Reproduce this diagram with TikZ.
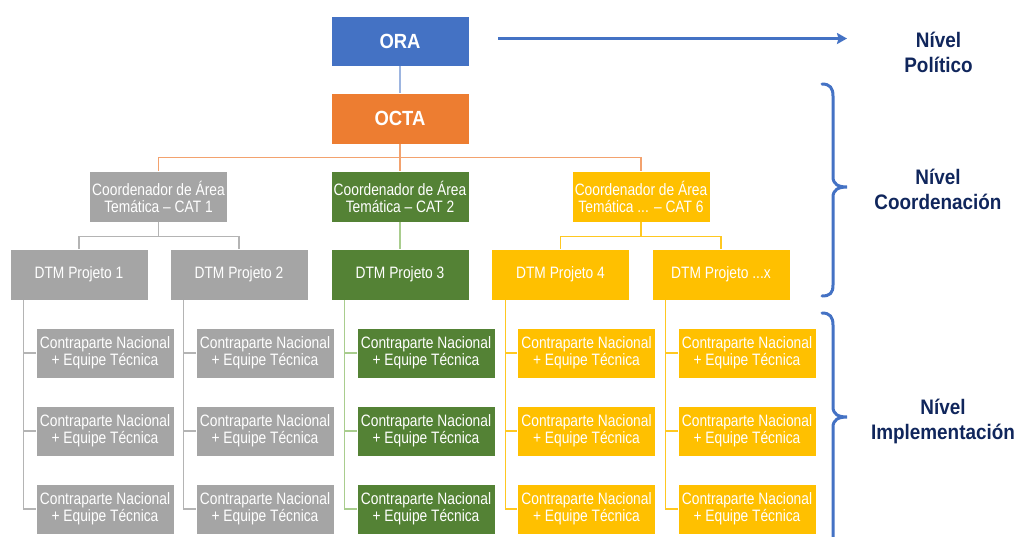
\documentclass[tikz,border=0pt]{standalone}
\usepackage{fontspec}
\setmainfont{Liberation Sans}
\newfontfamily\boxfont[FakeStretch=0.835]{Liberation Sans}
\newfontfamily\titlefont[FakeStretch=0.9]{Liberation Sans}
\newfontfamily\lblfont[FakeStretch=0.9]{Liberation Sans}
\usetikzlibrary{arrows.meta,calc}
\definecolor{cblue}{HTML}{4472C4}
\definecolor{corange}{HTML}{ED7D31}
\definecolor{cgray}{HTML}{A5A5A5}
\definecolor{cgreen}{HTML}{548235}
\definecolor{cyellow}{HTML}{FFC000}
\definecolor{cnavy}{RGB}{16,38,92}
\definecolor{lblue}{HTML}{9DB5E0}
\definecolor{lorange}{HTML}{F3A26E}
\definecolor{lgray}{HTML}{B4B4B4}
\definecolor{lgreen}{HTML}{A9CD8E}
\definecolor{lyellow}{HTML}{FFC821}
\begin{document}
\begin{tikzpicture}[x=1pt,y=-1pt,
  box/.style={rectangle, minimum width=138pt, minimum height=51pt, inner sep=0pt,
    draw=white, line width=0.6pt, text=white, align=center,
    font=\boxfont\fontsize{16.5}{17}\selectfont},
  cbox/.style={box, minimum height=50pt},
  topbox/.style={box, minimum height=50pt, font=\titlefont\bfseries\fontsize{20.5}{22}\selectfont},
  lbl/.style={align=center, text=cnavy, inner sep=0pt,
    font=\lblfont\bfseries\fontsize{21}{25}\selectfont},
  conn/.style={line width=1.3pt},
  bracestyle/.style={draw=cblue, line width=3pt, line cap=round}]
\useasboundingbox (0,0) rectangle (1018,536);
\clip (0,0) rectangle (1018,536);

% top levels
\node[topbox, fill=cblue] (ora) at (400,41) {ORA};
\node[topbox, fill=corange, minimum height=51pt] (octa) at (400,118.5) {OCTA};

% CAT level
\node[box, fill=cgray] (cat1) at (158.5,196.5) {Coordenador de Área\\Temática – CAT 1};
\node[box, fill=cgreen] (cat2) at (400,196.5) {Coordenador de Área\\Temática – CAT 2};
\node[box, fill=cyellow] (cat6) at (641,196.5) {Coordenador de Área\\Temática ... – CAT 6};

% DTM level
\node[box, fill=cgray] (dtm1) at (79,274.5) {DTM Projeto 1};
\node[box, fill=cgray] (dtm2) at (239,274.5) {DTM Projeto 2};
\node[box, fill=cgreen] (dtm3) at (400,274.5) {DTM Projeto 3};
\node[box, fill=cyellow] (dtm4) at (560.5,274.5) {DTM Projeto 4};
\node[box, fill=cyellow] (dtmx) at (721,274.5) {DTM Projeto ...x};

% Contrapartes
\foreach \d/\cx/\col in {1/105/cgray, 2/265/cgray, 3/426/cgreen, 4/586.5/cyellow, x/747/cyellow}{
  \node[cbox, fill=\col] (c\d a) at (\cx,353) {Contraparte Nacional\\+ Equipe Técnica};
  \node[cbox, fill=\col] (c\d b) at (\cx,431) {Contraparte Nacional\\+ Equipe Técnica};
  \node[cbox, fill=\col] (c\d c) at (\cx,509) {Contraparte Nacional\\+ Equipe Técnica};
}

% connectors top
\draw[conn, lblue] (ora.south) -- (octa.north);
\draw[conn, lorange] (octa.south) -- ++(0,13.5) -| (cat1.north);
\draw[conn, lorange] (octa.south) -- (cat2.north);
\draw[conn, lorange] (octa.south) -- ++(0,13.5) -| (cat6.north);

\draw[conn, lgray] (cat1.south) -- ++(0,14) -| (dtm1.north);
\draw[conn, lgray] (cat1.south) -- ++(0,14) -| (dtm2.north);
\draw[conn, lgreen] (cat2.south) -- (dtm3.north);
\draw[conn, lyellow] (cat6.south) -- ++(0,14) -| (dtm4.north);
\draw[conn, lyellow] (cat6.south) -- ++(0,14) -| (dtmx.north);

% DTM to contrapartes
\foreach \d/\col in {1/lgray, 2/lgray, 3/lgreen, 4/lyellow, x/lyellow}{
  \coordinate (v\d) at ($(dtm\d.south west)+(14,0)$);
  \draw[conn, \col] (v\d) |- (c\d c.west);
  \draw[conn, \col] (v\d) |- (c\d a.west);
  \draw[conn, \col] (v\d) |- (c\d b.west);
}

% arrow to Nivel Politico
\coordinate (a1) at (498,38.5);
\coordinate (a2) at (847,38.5);
\draw[cblue, line width=3.8pt, -{Stealth[length=10pt,width=11pt,inset=1.5pt]}] (a1) -- (a2);

% labels
\node[lbl] (politico) at (938.5,52) {Nível\\Político};
\node[lbl] (coord) at (938,189.5) {Nível\\Coordenación};
\node[lbl] (impl) at (943,421) {Nível\\Implementación};

% braces
\draw[bracestyle] (822,84) .. controls (830,84) and (833,88) .. (833,96)
  -- (833,177) .. controls (833,184) and (838,187) .. (847,187)
  .. controls (838,187) and (833,190) .. (833,197)
  -- (833,285) .. controls (833,293) and (830,296) .. (822,296);
\draw[bracestyle] (822,313) .. controls (830,313) and (833,317) .. (833,325)
  -- (833,407) .. controls (833,414) and (838,417) .. (847,417)
  .. controls (838,417) and (833,420) .. (833,427)
  -- (833,545);
\end{tikzpicture}
\end{document}
